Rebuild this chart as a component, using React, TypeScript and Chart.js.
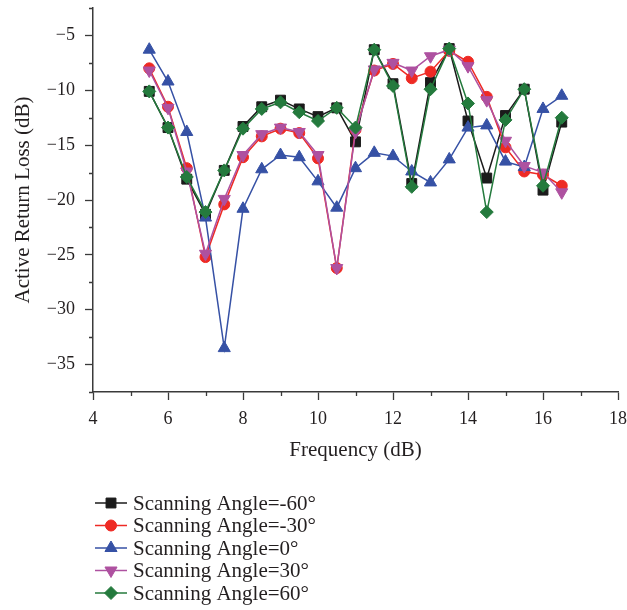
import React, { useEffect, useRef } from 'react';
import { Chart, registerables } from 'chart.js';
import { drawPoint } from 'chart.js/helpers';

Chart.register(...registerables);

// ---------- data ----------
const FREQ = [5.5, 6, 6.5, 7, 7.5, 8, 8.5, 9, 9.5, 10, 10.5, 11, 11.5, 12, 12.5, 13, 13.5, 14, 14.5, 15, 15.5, 16, 16.5];

const ANGLE_M60 = [-10.1, -13.4, -18.1, -21.3, -17.3, -13.3, -11.5, -10.9, -11.7, -12.4, -11.6, -14.7, -6.3, -9.4, -18.5, -9.3, -6.2, -12.8, -18.0, -12.3, -9.9, -19.1, -12.9];
const ANGLE_M30 = [-8.0, -11.5, -17.1, -25.2, -20.4, -16.1, -14.2, -13.5, -13.9, -16.2, -26.2, -13.6, -8.2, -7.6, -8.9, -8.3, -6.4, -7.4, -10.6, -15.2, -17.4, -17.7, -18.7];
const ANGLE_0 = [-6.3, -9.2, -13.8, -21.6, -33.5, -20.8, -17.2, -15.9, -16.1, -18.3, -20.7, -17.1, -15.7, -16.0, -17.4, -18.4, -16.3, -13.4, -13.2, -16.5, -17.0, -11.7, -10.5];
const ANGLE_P30 = [-8.2, -11.6, -17.4, -24.9, -19.9, -15.9, -14.0, -13.4, -13.8, -15.9, -26.2, -13.8, -8.1, -7.5, -8.2, -6.9, -6.3, -7.8, -10.9, -14.6, -16.9, -17.5, -19.3];
const ANGLE_P60 = [-10.1, -13.4, -17.9, -21.1, -17.3, -13.5, -11.7, -11.1, -12.0, -12.8, -11.6, -13.4, -6.3, -9.6, -18.8, -9.9, -6.2, -11.2, -21.1, -12.7, -9.9, -18.7, -12.5];

const SERIES = [ANGLE_M60, ANGLE_M30, ANGLE_0, ANGLE_P30, ANGLE_P60];
const SERIES_LABELS = [
  'Scanning Angle=-60°',
  'Scanning Angle=-30°',
  'Scanning Angle=0°',
  'Scanning Angle=30°',
  'Scanning Angle=60°',
];

const X_MIN = 4;
const X_MAX = 18;
const X_MAJOR = 2;
const Y_MIN = -37.5;
const Y_MAX = -2.5;
const Y_MAJOR = 5;

const X_TITLE = 'Frequency (dB)';
const Y_TITLE = 'Active Return Loss (dB)';

// ---------- styles ----------
const COLORS = ['#1b1b1b', '#ee2a24', '#3651a5', '#ae51a0', '#247a3d'];
const POINT_STYLES = ['rect', 'circle', 'triangle', 'triangle', 'rectRot'];
const POINT_ROTATION = [0, 0, 0, 180, 0];
const POINT_RADIUS = [7, 5.5, 7, 7, 6.5];
const AXIS_COLOR = '#3a3a3a';
const TEXT_COLOR = '#231f20';
const FONT_FAMILY = '"Liberation Serif", "DejaVu Serif", serif';

const fmt = (v: number) => (v < 0 ? '\u2212' + Math.abs(v) : String(v));

const minorTicksPlugin = {
  id: 'minorTicks',
  afterDraw(chart: any) {
    const { ctx, chartArea, scales } = chart;
    ctx.save();
    ctx.strokeStyle = AXIS_COLOR;
    ctx.lineWidth = 1.3;
    ctx.beginPath();
    scales.x.ticks.forEach((t: any) => {
      if (Math.abs(t.value % X_MAJOR) > 1e-9) {
        const px = Math.round(scales.x.getPixelForValue(t.value)) + 0.5;
        ctx.moveTo(px, chartArea.bottom);
        ctx.lineTo(px, chartArea.bottom + 4);
      }
    });
    scales.y.ticks.forEach((t: any) => {
      if (Math.abs(t.value % Y_MAJOR) > 1e-9) {
        const py = Math.round(scales.y.getPixelForValue(t.value)) + 0.5;
        ctx.moveTo(chartArea.left - 4, py);
        ctx.lineTo(chartArea.left, py);
      }
    });
    ctx.stroke();
    ctx.restore();
  },
};

const legendPlugin = {
  id: 'stackedLegend',
  afterDraw(chart: any) {
    const { ctx, chartArea } = chart;
    const x0 = chartArea.left + 2;
    const y0 = chartArea.bottom + 111;
    const rowH = 22.5;
    ctx.save();
    chart.data.datasets.forEach((ds: any, i: number) => {
      const y = y0 + i * rowH;
      ctx.strokeStyle = ds.borderColor;
      ctx.lineWidth = 1.5;
      ctx.beginPath();
      ctx.moveTo(x0, y);
      ctx.lineTo(x0 + 32, y);
      ctx.stroke();
      ctx.fillStyle = ds.backgroundColor;
      ctx.strokeStyle = ds.borderColor;
      ctx.lineWidth = 1;
      drawPoint(ctx, { pointStyle: ds.pointStyle, rotation: ds.pointRotation, radius: ds.pointRadius, borderWidth: 1 }, x0 + 16, y);
      ctx.fillStyle = TEXT_COLOR;
      ctx.font = `21px ${FONT_FAMILY}`;
      ctx.textAlign = 'left';
      ctx.textBaseline = 'middle';
      ctx.fillText(ds.label, x0 + 38, y + 1);
    });
    ctx.restore();
  },
};

export default function App() {
  const ref = useRef<HTMLCanvasElement>(null);

  useEffect(() => {
    if (!ref.current) return;
    const datasets = SERIES.map((vals, i) => ({
      label: SERIES_LABELS[i],
      data: FREQ.map((x, j) => ({ x, y: vals[j] })),
      borderColor: COLORS[i],
      backgroundColor: COLORS[i],
      borderWidth: 1.5,
      pointStyle: POINT_STYLES[i],
      pointRotation: POINT_ROTATION[i],
      pointRadius: POINT_RADIUS[i],
      pointHoverRadius: POINT_RADIUS[i],
      pointBorderWidth: 1,
      tension: 0,
      order: SERIES.length - 1 - i,
    }));

    const chart = new Chart(ref.current, {
      type: 'line',
      data: { datasets } as any,
      options: {
        animation: false,
        responsive: true,
        maintainAspectRatio: false,
        layout: { padding: { top: 6.5, right: 9, left: 0, bottom: 146 } },
        plugins: {
          legend: { display: false },
          tooltip: { enabled: false },
        },
        scales: {
          x: {
            type: 'linear',
            position: 'bottom',
            min: X_MIN,
            max: X_MAX,
            afterFit: (s: any) => { s.height = 72; s.paddingLeft = 0; s.paddingRight = 0; },
            ticks: {
              stepSize: 1,
              autoSkip: false,
              maxRotation: 0,
              padding: 8,
              color: TEXT_COLOR,
              font: { family: FONT_FAMILY, size: 18 },
              callback: (v: any) => (Math.abs(v % X_MAJOR) < 1e-9 ? fmt(v) : ''),
            },
            grid: {
              display: true,
              drawOnChartArea: false,
              drawTicks: true,
              tickLength: 8,
              tickWidth: 1.3,
              tickColor: (c: any) => (c.tick && Math.abs(c.tick.value % X_MAJOR) < 1e-9 ? AXIS_COLOR : 'rgba(0,0,0,0)'),
            },
            border: { display: true, color: AXIS_COLOR, width: 1.5 },
            title: {
              display: true,
              text: X_TITLE,
              color: TEXT_COLOR,
              font: { family: FONT_FAMILY, size: 21 },
              padding: { top: 0, bottom: 1 },
            },
          },
          y: {
            type: 'linear',
            min: Y_MIN,
            max: Y_MAX,
            afterFit: (s: any) => { s.width = 93; s.paddingTop = 0; s.paddingBottom = 0; },
            ticks: {
              stepSize: 2.5,
              autoSkip: false,
              padding: 10,
              color: TEXT_COLOR,
              font: { family: FONT_FAMILY, size: 18 },
              callback: (v: any) => (Math.abs(v % Y_MAJOR) < 1e-9 ? fmt(v) : ''),
            },
            grid: {
              display: true,
              drawOnChartArea: false,
              drawTicks: true,
              tickLength: 8,
              tickWidth: 1.3,
              tickColor: (c: any) => (c.tick && Math.abs(c.tick.value % Y_MAJOR) < 1e-9 ? AXIS_COLOR : 'rgba(0,0,0,0)'),
            },
            border: { display: true, color: AXIS_COLOR, width: 1.5 },
            title: {
              display: true,
              text: Y_TITLE,
              color: TEXT_COLOR,
              font: { family: FONT_FAMILY, size: 21 },
              padding: { top: 11, bottom: 0 },
            },
          },
        },
      } as any,
      plugins: [minorTicksPlugin, legendPlugin],
    });
    return () => chart.destroy();
  }, []);

  return (
    <div style={{ position: 'fixed', left: 0, top: 0, width: 627, height: 610, background: '#fff' }}>
      <canvas ref={ref} />
    </div>
  );
}
